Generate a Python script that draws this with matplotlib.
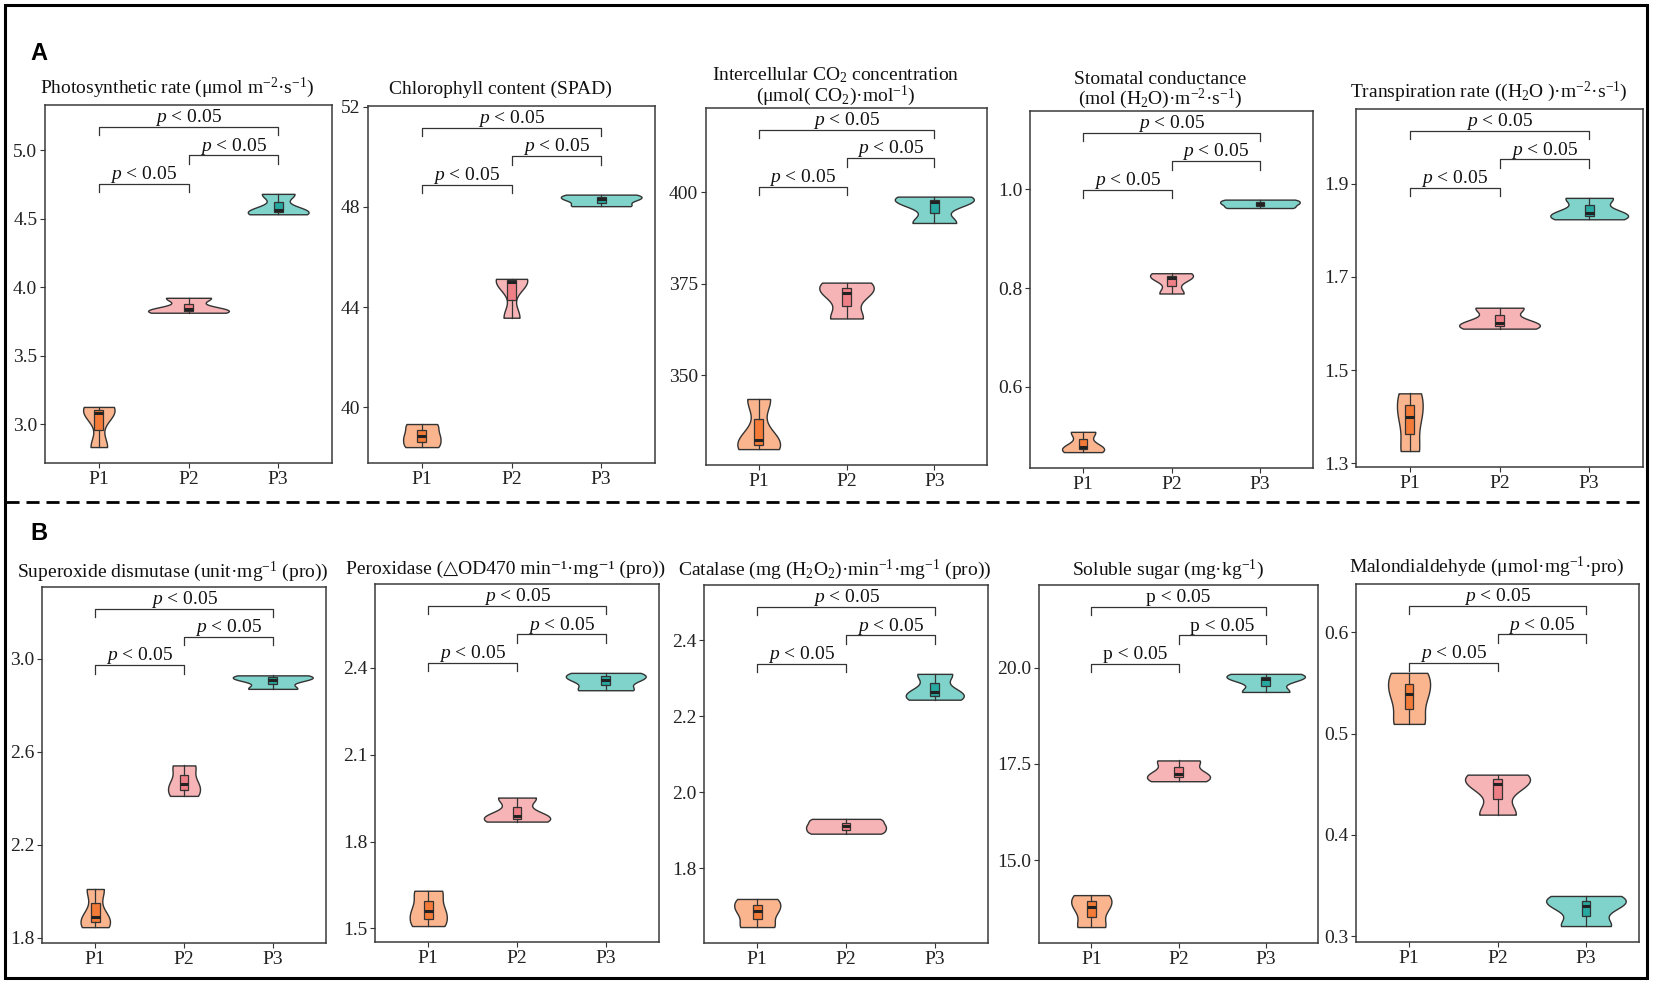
import numpy as np
import matplotlib.pyplot as plt
from matplotlib.lines import Line2D
from matplotlib.patches import Rectangle

plt.rcParams['font.family'] = ['Liberation Serif', 'DejaVu Serif', 'DejaVu Sans']
plt.rcParams['mathtext.fontset'] = 'custom'
plt.rcParams['mathtext.rm'] = 'Liberation Serif'
plt.rcParams['mathtext.it'] = 'Liberation Serif:italic'
plt.rcParams['mathtext.bf'] = 'Liberation Serif:bold'
plt.rcParams['mathtext.fallback'] = 'stix'

groups = ["P1", "P2", "P3"]

# three replicates per group (P1, P2, P3)
photo = [[2.834, 3.080, 3.127], [3.815, 3.840, 3.924], [4.534, 4.562, 4.683]]
chloro = [[38.42, 38.85, 39.34], [43.58, 45.00, 45.13], [48.03, 48.30, 48.49]]
ci = [[329.8, 332.3, 343.5], [365.5, 372.4, 375.3], [391.6, 397.2, 398.8]]
gs = [[0.468, 0.479, 0.509], [0.789, 0.820, 0.830], [0.962, 0.971, 0.979]]
tr = [[1.326, 1.400, 1.450], [1.589, 1.602, 1.634], [1.824, 1.838, 1.870]]
sod = [[1.846, 1.890, 2.010], [2.410, 2.462, 2.541], [2.870, 2.910, 2.928]]
pod = [[1.508, 1.560, 1.630], [1.869, 1.890, 1.952], [2.323, 2.360, 2.383]]
cat = [[1.645, 1.688, 1.719], [1.891, 1.910, 1.930], [2.244, 2.264, 2.312]]
sugar = [[13.26, 13.77, 14.09], [17.05, 17.25, 17.59], [19.37, 19.70, 19.84]]
mda = [[0.5096, 0.539, 0.560], [0.420, 0.450, 0.4595], [0.310, 0.330, 0.3397]]

titles = [
    "Photosynthetic rate (μmol m$^{-2}$·s$^{-1}$)",
    "Chlorophyll content (SPAD)",
    "Intercellular CO$_2$ concentration\n(μmol( CO$_2$)·mol$^{-1}$)",
    "Stomatal conductance\n(mol (H$_2$O)·m$^{-2}$·s$^{-1}$)",
    "Transpiration rate ((H$_2$O )·m$^{-2}$·s$^{-1}$)",
    "Superoxide dismutase (unit·mg$^{-1}$ (pro))",
    "Peroxidase (△OD470 min⁻¹·mg⁻¹ (pro))",
    "Catalase (mg (H$_2$O$_2$)·min$^{-1}$·mg$^{-1}$ (pro))",
    "Soluble sugar (mg·kg$^{-1}$)",
    "Malondialdehyde (μmol·mg$^{-1}$·pro)",
]
yticks = [
    [3.0, 3.5, 4.0, 4.5, 5.0],
    [40, 44, 48, 52],
    [350, 375, 400],
    [0.6, 0.8, 1.0],
    [1.3, 1.5, 1.7, 1.9],
    [1.8, 2.2, 2.6, 3.0],
    [1.5, 1.8, 2.1, 2.4],
    [1.8, 2.0, 2.2, 2.4],
    [15.0, 17.5, 20.0],
    [0.3, 0.4, 0.5, 0.6],
]
yfmt = ["%.1f", "%d", "%d", "%.1f", "%.1f", "%.1f", "%.1f", "%.1f", "%.1f", "%.1f"]
italic_p = [True] * 8 + [False, True]
panels = [photo, chloro, ci, gs, tr, sod, pod, cat, sugar, mda]

# panel frames in pixels: left, right, top, bottom ; title pad (pt)
W, H = 1654, 984
frames = [
    (45, 332, 105, 463, 8.5), (368, 655, 106, 463, 8.5), (706, 987, 108, 465, 4),
    (1030, 1313, 111, 468, 4), (1356, 1643, 109, 467, 8.5),
    (42, 326, 587, 943, 7.5), (375, 659, 584, 942, 7.5), (704, 988, 585, 943, 7.5),
    (1039, 1318, 585, 943, 7.5), (1356, 1639, 584, 942, 8.5),
]

violin_fill = ["#FBB58E", "#F6B4B6", "#80D3CB"]
box_fill = ["#F47B37", "#EF7F86", "#27A8A0"]
dark = "#333333"


def nrd0(x):
    x = np.asarray(x, float)
    sd = np.std(x, ddof=1)
    q75, q25 = np.percentile(x, [75, 25])
    lo = min(sd, (q75 - q25) / 1.34)
    if lo == 0:
        lo = sd if sd > 0 else 1.0
    return 0.9 * lo * len(x) ** -0.2


def density(x):
    x = np.asarray(x, float)
    bw = nrd0(x)
    ys = np.linspace(x.min(), x.max(), 512)
    d = np.exp(-0.5 * ((ys[:, None] - x[None, :]) / bw) ** 2).sum(1)
    d = d / (len(x) * bw * np.sqrt(2 * np.pi))
    return ys, d


fig = plt.figure(figsize=(W / 100, H / 100), dpi=100)

for k, vals in enumerate(panels):
    l, r, t, b, tpad = frames[k]
    ax = fig.add_axes([l / W, 1 - b / H, (r - l) / W, (b - t) / H])
    pos = np.arange(1, 4)

    dens = [density(v) for v in vals]
    dmax = max(d.max() for _, d in dens)
    for i, (ys, d) in enumerate(dens):
        hw = 0.45 * d / dmax
        ax.fill_betweenx(ys, pos[i] - hw, pos[i] + hw, facecolor=violin_fill[i],
                         edgecolor=dark, lw=1.0, zorder=2)

    bp = ax.boxplot(vals, positions=pos, widths=0.1, patch_artist=True,
                    showfliers=False, showcaps=False, whis=1.5,
                    medianprops=dict(color="#222222", lw=2.2),
                    whiskerprops=dict(color=dark, lw=0.9),
                    boxprops=dict(edgecolor=dark, lw=0.9), zorder=3)
    for i, patch in enumerate(bp['boxes']):
        patch.set_facecolor(box_fill[i])

    allv = np.concatenate(vals)
    lo, hi = allv.min(), allv.max()
    rng = hi - lo
    tip = 0.033 * rng
    label = "$p$ < 0.05" if italic_p[k] else "p < 0.05"
    for j, (a, c) in enumerate([(1, 2), (2, 3), (1, 3)]):
        y = hi + (0.04 + 0.112 * j) * rng
        ax.plot([a, a, c, c], [y - tip, y, y, y - tip], color=dark, lw=0.9, zorder=4)
        ax.annotate(label, ((a + c) / 2, y), xytext=(0, 3.5), textcoords="offset points",
                    ha="center", va="baseline", fontsize=14, color="#111111")

    ax.set_xlim(0.4, 3.6)
    ax.set_ylim(lo - 0.063 * rng, hi + 0.351 * rng)
    ax.set_xticks(pos)
    ax.set_xticklabels(groups)
    ax.set_yticks(yticks[k])
    ax.set_yticklabels([yfmt[k] % v for v in yticks[k]])
    ax.tick_params(direction="out", length=3.5, width=0.8, color=dark,
                   labelsize=14, labelcolor="#222222", pad=2)
    for sp in ax.spines.values():
        sp.set_color("#3a3a3a")
        sp.set_linewidth(1.1)

    two_line = "\n" in titles[k]
    ax.set_title(titles[k], fontsize=14, x=0.5 - 11 / (r - l), pad=tpad,
                 linespacing=0.95 if two_line else 1.2, color="#111111")

fig.text(39 / W, 1 - 53 / H, "A", family="Liberation Sans", weight="bold",
         fontsize=17, ha="center", va="center")
fig.text(39 / W, 1 - 533 / H, "B", family="Liberation Sans", weight="bold",
         fontsize=17, ha="center", va="center")

fig.add_artist(Line2D([6 / W, 1647 / W], [1 - 501.7 / H] * 2, color="black",
                      lw=2, linestyle=(0, (4.7, 2.5))))
fig.add_artist(Rectangle((5 / W, 1 - 978 / H), 1642 / W, 973 / H, fill=False,
                         edgecolor="black", lw=2.2))

plt.savefig("out.png", dpi=100)
plt.close()
